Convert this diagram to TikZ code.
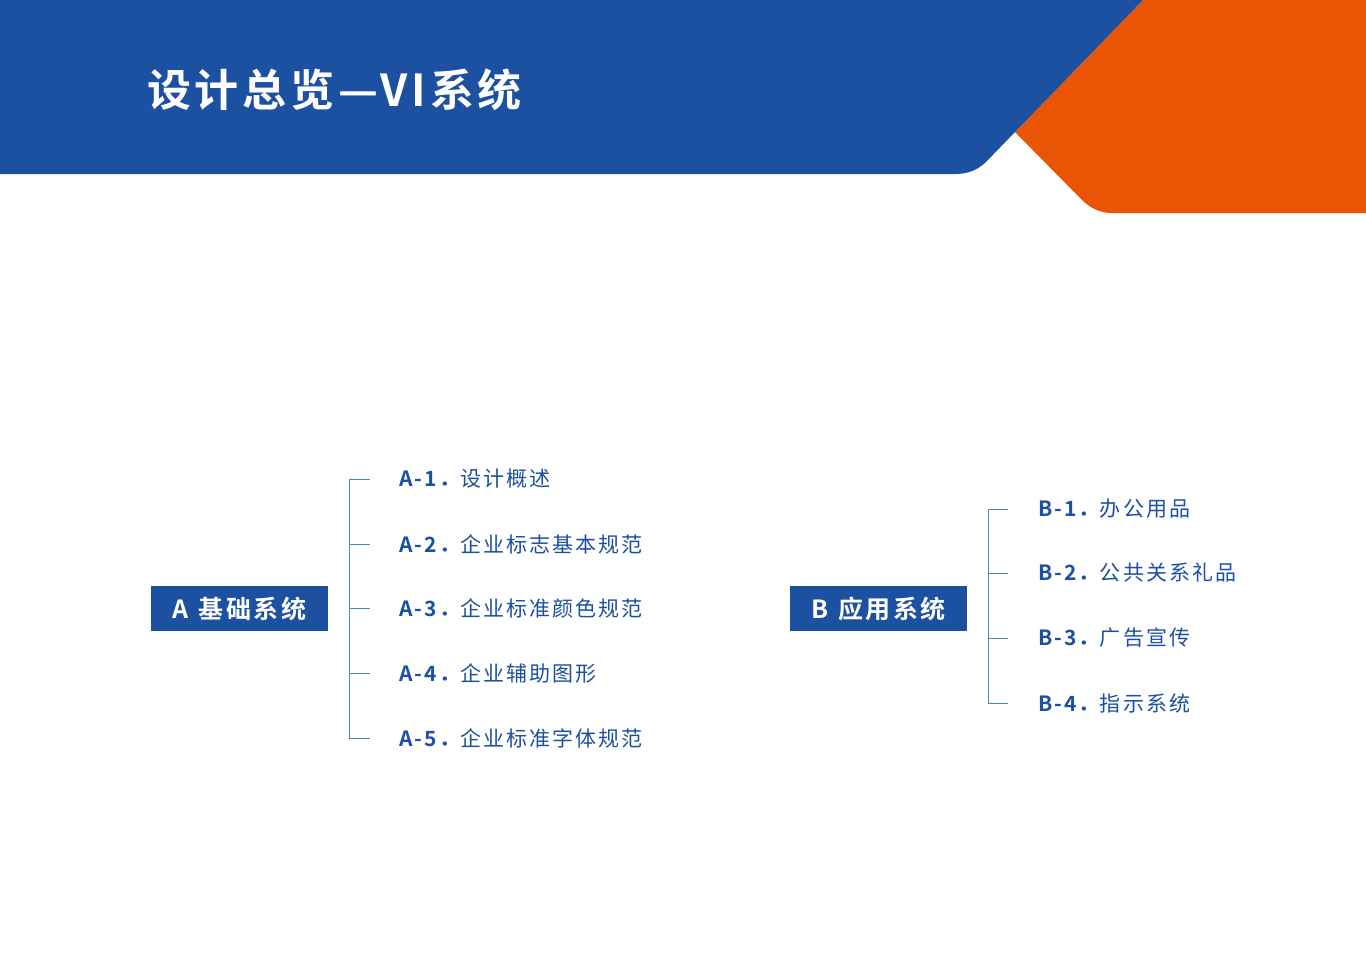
\documentclass[tikz,border=0pt]{standalone}
\usepackage{fontspec}
\newfontfamily\cjk[LetterSpace=10]{Noto Sans CJK SC}
\newfontfamily\cjkb[LetterSpace=10]{Noto Sans CJK SC Bold}
\newfontfamily\cjkt[LetterSpace=8.5]{Noto Sans CJK SC Bold}
\definecolor{vblue}{HTML}{1C50A1}
\definecolor{vorange}{HTML}{E95504}
\definecolor{lblue}{HTML}{5A7FBF}
\begin{document}
\begin{tikzpicture}[x=1pt,y=-1pt,
  catbox/.style={fill=vblue,text=white,minimum width=177pt,minimum height=45pt,inner sep=0pt,font=\cjkb\fontsize{25}{25}\selectfont},
  item/.style={anchor=west,text=vblue,inner sep=0pt,font=\cjk\fontsize{21}{21}\selectfont},
  brk/.style={draw=lblue,line width=0.9pt}]
\useasboundingbox (0,0) rectangle (1366,974);
\fill[white] (0,0) rectangle (1366,974);
\fill[vorange] (1143,0) -- (1366,0) -- (1366,213) -- (1112,213)
  .. controls (1100,213) and (1090,208) .. (1082,200) -- (1015,132) -- cycle;
\fill[vblue] (0,0) -- (1143,0) -- (985,163)
  .. controls (977,170) and (968,174) .. (955,174) -- (0,174) -- cycle;
\node[anchor=west,text=white,inner sep=0pt,font=\cjkt\fontsize{44}{44}\selectfont] (title) at (147,90) {设计总览—VI系统};
\node[catbox] (A) at (239.5,608.5) {A\hspace*{10pt}基础系统};
\node[catbox] (B) at (878.5,608.5) {B\hspace*{10pt}应用系统};
\foreach \i/\t/\y in {1/设计概述/479,2/企业标志基本规范/544,3/企业标准颜色规范/608,4/企业辅助图形/673,5/企业标准字体规范/738}{
  \node[item] (a\i) at (399,\y) {{\cjkb A-\i．}\t};
  \coordinate (at\i) at (370,\y);
}
\foreach \i/\t/\y in {1/办公用品/509,2/公共关系礼品/573,3/广告宣传/638,4/指示系统/703}{
  \node[item] (b\i) at (1038,\y) {{\cjkb B-\i．}\t};
  \coordinate (bt\i) at (1008,\y);
}
\draw[brk] (at1) -- ++(-21,0) |- (at5);
\foreach \i in {2,3,4} \draw[brk] (at\i) -- ++(-21,0);
\draw[brk] (bt1) -- ++(-20,0) |- (bt4);
\foreach \i in {2,3} \draw[brk] (bt\i) -- ++(-20,0);
\end{tikzpicture}
\end{document}
